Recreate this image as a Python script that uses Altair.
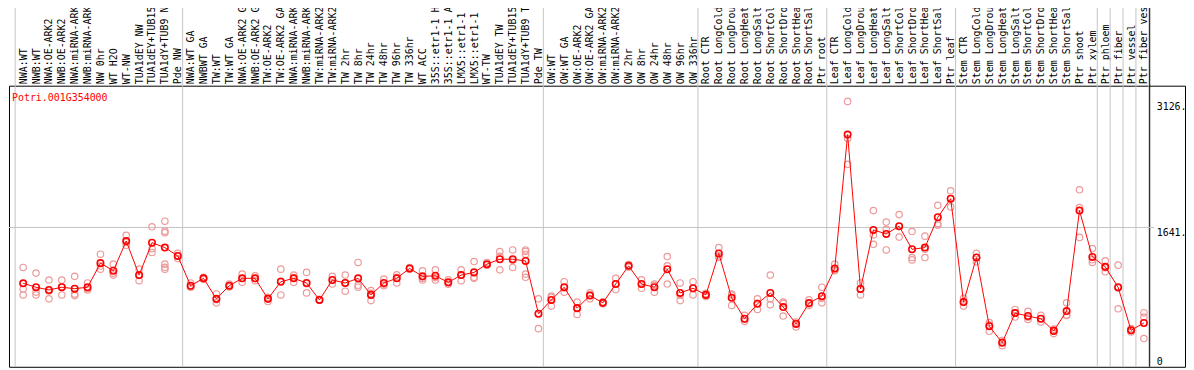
import altair as alt
import pandas as pd

gene_id = "Potri.001G354000"

names = [
    "NWA:WT", "NWB:WT", "NWA:OE-ARK2", "NWB:OE-ARK2", "NWA:miRNA-ARK2", "NWB:miRNA-ARK2",
    "NW 0hr", "WT H2O", "WT-NW", "TUA1dEY NW", "TUA1dEY+TUB15 NW", "TUA1dY+TUB9 NW", "Pde NW",
    "NWA:WT GA", "NWBWT GA", "TW:WT", "TW:WT GA", "NWA:OE-ARK2 GA", "NWB:OE-ARK2 GA",
    "TW:OE-ARK2", "TW:OE-ARK2 GA", "NWA:miRNA-ARK2", "NWB:miRNA-ARK2", "TW:miRNA-ARK2",
    "TW:miRNA-ARK2", "TW 2hr", "TW 8hr", "TW 24hr", "TW 48hr", "TW 96hr", "TW 336hr", "WT ACC",
    "35S::etr1-1 H2O", "35S::etr1-1 ACC", "LMX5::etr1-1 H2O", "LMX5::etr1-1 ACC", "WT-TW",
    "TUA1dEY TW", "TUA1dEY+TUB15 TW", "TUA1dY+TUB9 TW", "Pde TW",
    "OW:WT", "OW:WT GA", "OW:OE-ARK2", "OW:OE-ARK2 GA", "OW:miRNA-ARK2", "OW:miRNA-ARK2",
    "OW 2hr", "OW 8hr", "OW 24hr", "OW 48hr", "OW 96hr", "OW 336hr",
    "Root CTR", "Root LongCold", "Root LongDrought", "Root LongHeat", "Root LongSalt",
    "Root ShortCold", "Root ShortDrought", "Root ShortHeat", "Root ShortSalt", "Ptr root",
    "Leaf CTR", "Leaf LongCold", "Leaf LongDrought", "Leaf LongHeat", "Leaf LongSalt",
    "Leaf ShortCold", "Leaf ShortDrought", "Leaf ShortHeat", "Leaf ShortSalt", "Ptr leaf",
    "Stem CTR", "Stem LongCold", "Stem LongDrought", "Stem LongHeat", "Stem LongSalt",
    "Stem ShortCold", "Stem ShortDrought", "Stem ShortHeat", "Stem ShortSalt", "Ptr shoot",
    "Ptr xylem", "Ptr phloem", "Ptr fiber", "Ptr vessel", "Ptr fiber vessel",
]

means = [
    983, 937, 905, 937, 920, 937, 1221, 1131, 1481, 1080, 1462, 1404, 1306,
    955, 1042, 800, 955, 1042, 1042, 800, 1002, 1042, 987, 788, 1022, 987, 1042, 847, 987,
    1042, 1159, 1065, 1072, 995, 1080, 1112, 1209, 1267, 1267, 1247, 625,
    788, 937, 691, 839, 753, 975, 1189, 975, 937, 1150, 870, 925,
    847, 1334, 812, 566, 742, 870, 703, 505, 750, 832,
    1159, 2735, 917, 1612, 1565, 1656, 1384, 1404, 1761, 1980,
    762, 1287, 477, 283, 633, 598, 566, 423, 656, 1840, 1294,
    1177, 937, 430, 516,
]

reps = [
    [1170, 916, 846], [1104, 846, 880], [1022, 800, 893], [1022, 846, 943], [1065, 839, 856],
    [987, 905, 920], [1326, 1150, 1187], [1209, 1104, 1080], [1548, 1431, 1466], [1150, 1014, 1076],
    [1649, 1346, 1391], [1715, 1598, 1579, 1209, 1150, 1172], [1337, 1306, 1275],
    [987, 937, 941], [1054, 1030, 1042], [858, 753, 789], [975, 940, 950], [1092, 995, 1040],
    [1072, 1014, 1040], [769, 812, 818], [1150, 846, 1010], [1080, 995, 1051], [1112, 870, 979],
    [783, 794, 788], [1065, 975, 1025], [1080, 890, 990], [1229, 937, 960], [897, 780, 864],
    [1034, 955, 972], [1084, 987, 1054], [1168, 1150, 1159], [1131, 1022, 1042], [1142, 1022, 1051],
    [1025, 972, 988], [1142, 1014, 1084], [1240, 1042, 1054], [1229, 1197, 1200], [1357, 1142, 1302],
    [1376, 1170, 1256], [1376, 1360, 1326, 1092, 1054], [800, 449, 625],
    [832, 715, 818], [1002, 878, 931], [762, 617, 695], [870, 800, 846], [753, 765, 742],
    [1042, 909, 975], [1189, 1203, 1174], [1025, 925, 975], [975, 878, 958], [1299, 1189, 975],
    [987, 780, 843], [1002, 847, 925],
    [827, 847, 864], [1404, 1306, 1291], [858, 722, 847], [605, 535, 561], [800, 675, 748],
    [1080, 800, 730], [762, 598, 748], [528, 470, 514], [788, 722, 742], [937, 753, 806],
    [1209, 1131, 1139], [3126, 2689, 2385], [987, 917, 847], [1840, 1442, 1553], [1705, 1376, 1618],
    [1793, 1528, 1653], [1593, 1287, 1259], [1539, 1287, 1384], [1902, 1688, 1668], [2073, 1883, 1980],
    [808, 715, 759], [1337, 1236, 1287], [520, 418, 491], [248, 310, 292], [675, 586, 637],
    [652, 558, 584], [605, 528, 566], [391, 444, 432], [753, 605, 610], [2085, 1875, 1524],
    [1392, 1229, 1261],
    [1247, 1119, 1166], [1197, 683, 929], [450, 411, 430], [637, 586, 333],
]

group_starts = [0, 13, 41, 53, 63, 73, 84, 85, 86, 87, 88]
y_ticks = [0, 1641, 3126]

# ---- tables ----
idx = list(range(len(names)))
mean_df = pd.DataFrame({"i": idx, "v": means})
rep_df = pd.DataFrame([{"i": i, "v": v} for i, rr in enumerate(reps) for v in rr])
sep_df = pd.DataFrame({"i": [s - 0.62 for s in group_starts]})
div_df = pd.DataFrame({"i": [group_starts[-1] - 0.55]})
grid_df = pd.DataFrame({"i": [-1.1], "i2": [87.8], "v": [y_ticks[1]]})
title_df = pd.DataFrame({"t": [gene_id]})

W, H = 1184, 283
FONT = "DejaVu Sans Mono"
xs = alt.Scale(domain=[-1.1, 90.19], nice=False, zero=False)
ys = alt.Scale(domain=[0, 3311], nice=False, zero=False)

label_expr = "[" + ",".join("'" + n + "'" for n in names) + "][datum.value]"

x_axis = alt.Axis(
    orient="top", values=idx, labelExpr=label_expr, labelAngle=270,
    labelAlign="left", labelBaseline="middle", labelPadding=2,
    ticks=False, tickSize=0, domain=False, grid=False, labelOverlap=False,
    labelFlush=False, labelFont=FONT, labelFontSize=10, labelColor="black",
    labelLimit=400, title=None,
)
y_axis = alt.Axis(
    orient="right", values=y_ticks,
    labelExpr="datum.value == 0 ? '0' : datum.value + '.'",
    labelAlign="left",
    labelBaseline={"condition": {"test": "datum.value == 0", "value": "bottom"}, "value": "top"},
    labelPadding=-29, ticks=False, tickSize=0, domain=False, grid=False,
    labelOverlap=False, labelFlush=False, labelFont=FONT, labelFontSize=10,
    labelColor="black", title=None,
)

X = alt.X("i:Q", scale=xs, axis=x_axis)
Y = alt.Y("v:Q", scale=ys, axis=y_axis)

seps = alt.Chart(sep_df).mark_rule(color="#C4C4C4", strokeWidth=1).encode(
    x=X, y=alt.value(-80), y2=alt.value(H)
)
divider = alt.Chart(div_df).mark_rule(color="black", strokeWidth=1).encode(
    x=X, y=alt.value(-80), y2=alt.value(H)
)
grid = alt.Chart(grid_df).mark_rule(color="#C4C4C4", strokeWidth=1).encode(
    x=X, x2="i2:Q", y=Y
)
rep_pts = alt.Chart(rep_df).mark_point(
    shape="circle", filled=False, color="#EC9A9A", size=42, strokeWidth=1.2, opacity=1
).encode(x=X, y=Y)
line = alt.Chart(mean_df).mark_line(color="#FF0000", strokeWidth=1).encode(x=X, y=Y)
mean_pts = alt.Chart(mean_df).mark_point(
    shape="circle", filled=False, color="#FF0000", size=42, strokeWidth=1.6, opacity=1
).encode(x=X, y=Y)
title = alt.Chart(title_df).mark_text(
    align="left", baseline="middle", font=FONT, fontSize=10, color="#FF0000"
).encode(x=alt.value(3), y=alt.value(12), text="t:N")

chart = (
    alt.layer(seps, divider, grid, rep_pts, line, mean_pts, title)
    .properties(
        width=W, height=H,
        autosize=alt.AutoSizeParams(type="none"),
        padding={"left": 1, "top": 77, "right": 1, "bottom": 1},
        background="white",
    )
    .configure_view(stroke="black", strokeWidth=1)
)

chart.save("out.html", embed_options={"renderer": "svg", "actions": False})
